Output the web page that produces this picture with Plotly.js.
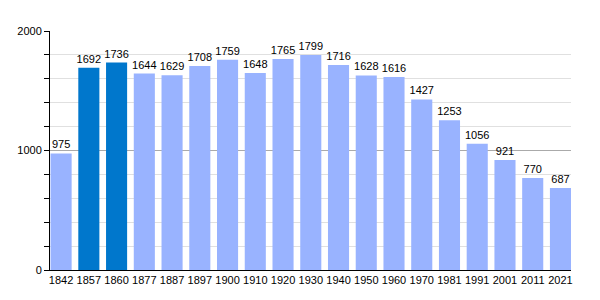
<!DOCTYPE html>
<html><head><meta charset="utf-8">
<script src="https://cdn.plot.ly/plotly-3.0.1.min.js"></script>
<style>html,body{margin:0;padding:0;background:#fff}#c{width:600px;height:300px}</style>
</head><body><div id="c"></div>
<script>
const years = ["1842","1857","1860","1877","1887","1897","1900","1910","1920","1930","1940","1950","1960","1970","1981","1991","2001","2011","2021"];
const population = [975,1692,1736,1644,1629,1708,1759,1648,1765,1799,1716,1628,1616,1427,1253,1056,921,770,687];
const highlighted = ["1857","1860"];
const lightColor = "#99b3ff";
const darkColor = "#0077cc";

const colors = years.map(y => highlighted.includes(y) ? darkColor : lightColor);
const gap = 0.24;

Plotly.newPlot("c", [{
  type: "bar",
  x: years,
  y: population,
  marker: {color: colors},
  text: population.map(String),
  textposition: "outside",
  constraintext: "none",
  textfont: {family: "Liberation Sans, Arial, sans-serif", size: 11, color: "#000"},
  cliponaxis: false,
  hoverinfo: "none"
}], {
  width: 600, height: 300,
  margin: {l: 50, r: 29, t: 31, b: 30},
  paper_bgcolor: "#fff", plot_bgcolor: "#fff",
  bargap: gap,
  showlegend: false,
  font: {family: "Liberation Sans, Arial, sans-serif", size: 11, color: "#000"},
  xaxis: {
    type: "category",
    range: [-0.5 + gap / 2 - 0.02, years.length - 0.5 - gap / 2],
    showline: true, linecolor: "#000", linewidth: 1,
    ticks: "", showgrid: false,
    tickfont: {size: 11}
  },
  yaxis: {
    range: [0, 2000],
    tickvals: [0, 1000, 2000],
    showline: true, linecolor: "#000", linewidth: 1,
    ticks: "outside", ticklen: 5, tickcolor: "#000",
    showgrid: true, gridcolor: "#aaaaaa", gridwidth: 1,
    zeroline: false,
    tickfont: {size: 11},
    minor: {dtick: 200, ticks: "outside", ticklen: 5, tickcolor: "#000", showgrid: true, gridcolor: "#e0e0e0", gridwidth: 1}
  }
}, {staticPlot: true});
</script>
</body></html>
